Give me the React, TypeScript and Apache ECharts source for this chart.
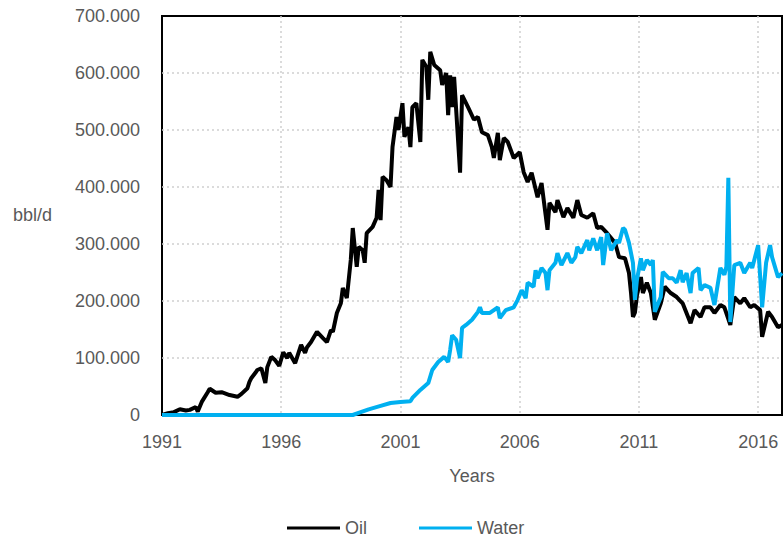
import React, { useEffect, useRef } from "react";
import * as echarts from "echarts";

// x values: months since January 1991
const oilMonths = [0, 3, 6, 9, 12, 14, 17, 18, 20, 23, 24, 27, 30, 34, 38, 40, 43, 44, 45, 47, 48, 50, 52, 53, 55, 57, 59, 61, 63, 64, 67, 70, 72, 73, 75, 78, 81, 83, 85, 86, 88, 90, 91, 93, 95, 96, 98, 99, 101, 102, 103, 106, 108, 109, 110, 111, 113, 115, 116, 118, 119, 121, 122, 124, 125, 126, 128, 130, 131, 133, 134, 135, 137, 140, 141, 143, 144, 145, 146, 147, 150, 151, 154, 157, 159, 161, 164, 166, 167, 169, 170, 172, 174, 177, 180, 182, 184, 186, 189, 191, 194, 195, 198, 199, 202, 204, 207, 209, 211, 214, 217, 219, 221, 224, 228, 230, 233, 235, 236, 237, 238, 239, 241, 242, 244, 246, 248, 251, 253, 256, 259, 262, 266, 268, 271, 273, 276, 278, 281, 283, 286, 288, 291, 293, 296, 298, 301, 302, 305, 307, 310, 312];
const oilValues = [0, 3, 5, 10, 8, 9, 14, 6, 23, 40, 46, 39, 40, 35, 32, 37, 47, 58, 65, 74, 79, 82, 56, 84, 102, 96, 86, 110, 100, 109, 91, 123, 109, 119, 128, 146, 135, 128, 149, 146, 179, 196, 223, 205, 272, 328, 260, 295, 289, 267, 319, 330, 346, 395, 342, 418, 412, 400, 470, 523, 500, 547, 488, 505, 470, 540, 547, 479, 623, 611, 553, 637, 614, 605, 579, 600, 526, 596, 540, 593, 425, 561, 540, 518, 523, 496, 491, 470, 451, 495, 447, 486, 479, 451, 461, 426, 409, 425, 382, 407, 325, 372, 356, 377, 347, 363, 346, 377, 351, 346, 354, 328, 330, 319, 302, 277, 275, 249, 215, 172, 180, 210, 242, 214, 232, 214, 167, 196, 225, 214, 207, 196, 161, 184, 172, 189, 189, 179, 193, 189, 158, 207, 196, 205, 189, 193, 184, 137, 181, 172, 154, 158].map((v) => v * 1000);

const waterMonths = [0, 96, 100, 104, 110, 115, 120, 125, 126, 130, 134, 136, 139, 142, 144, 145, 146, 148, 150, 151, 153, 156, 159, 160, 161, 165, 169, 170, 173, 177, 179, 181, 183, 184, 187, 188, 189, 191, 193, 194, 195, 198, 199, 201, 204, 206, 208, 209, 211, 214, 215, 217, 219, 221, 222, 224, 226, 229, 230, 232, 233, 235, 237, 238, 239, 241, 242, 244, 246, 247, 248, 251, 252, 255, 257, 259, 261, 262, 264, 266, 267, 270, 271, 273, 276, 278, 281, 283, 284, 285, 286, 288, 291, 293, 296, 297, 300, 302, 304, 306, 307, 310, 312];
const waterValues = [0, 0, 5, 10, 16, 21, 23, 24, 30, 44, 56, 79, 93, 102, 93, 114, 140, 132, 100, 153, 158, 167, 181, 189, 179, 179, 189, 170, 184, 189, 202, 219, 205, 232, 225, 254, 240, 258, 249, 219, 254, 267, 284, 263, 284, 267, 277, 295, 284, 307, 289, 310, 289, 312, 263, 319, 289, 307, 302, 328, 325, 302, 267, 202, 237, 275, 254, 272, 263, 272, 181, 207, 251, 240, 240, 232, 254, 233, 249, 214, 249, 258, 219, 228, 223, 193, 258, 246, 260, 416, 163, 263, 267, 249, 267, 258, 298, 189, 267, 298, 277, 242, 249].map((v) => v * 1000);

const startYear = 1991;
const yearStep = 5;
const yMax = 700000;
const yStep = 100000;

const FONT = "'Liberation Sans', Arial, sans-serif";
const GREY = "#595959";

function fmtThousands(v: number): string {
  return String(Math.round(v)).replace(/\B(?=(\d{3})+(?!\d))/g, ".");
}

export default function App() {
  const ref = useRef<HTMLDivElement>(null);
  useEffect(() => {
    if (!ref.current) return;
    const chart = echarts.init(ref.current, null, { renderer: "svg" });
    const oilData = oilMonths.map((m, i) => [m, oilValues[i]]);
    const waterData = waterMonths.map((m, i) => [m, waterValues[i]]);
    const gridLine = {
      show: true,
      showMinLine: false,
      showMaxLine: false,
      lineStyle: { color: "#d0d0d0", width: 1.5, type: [2, 3] },
    };
    chart.setOption({
      animation: false,
      backgroundColor: "#ffffff",
      textStyle: { fontFamily: FONT },
      grid: {
        left: 162,
        right: 2,
        top: 16,
        bottom: 125,
        show: true,
        borderColor: "#000000",
        borderWidth: 2,
        backgroundColor: "transparent",
      },
      xAxis: {
        type: "value",
        min: 0,
        max: 312,
        interval: yearStep * 12,
        name: "Years",
        nameLocation: "middle",
        nameGap: 52,
        nameTextStyle: { color: GREY, fontSize: 18, fontFamily: FONT },
        axisLine: { show: false },
        axisTick: { show: false },
        axisLabel: {
          color: GREY,
          fontSize: 18,
          fontFamily: FONT,
          margin: 18,
          showMaxLabel: false,
          formatter: (v: number) => (v % (yearStep * 12) === 0 ? String(startYear + v / 12) : ""),
        },
        splitLine: gridLine,
      },
      yAxis: {
        type: "value",
        min: 0,
        max: yMax,
        interval: yStep,
        axisLine: { show: false },
        axisTick: { show: false },
        axisLabel: {
          color: GREY,
          fontSize: 18,
          fontFamily: FONT,
          margin: 22,
          formatter: (v: number) => fmtThousands(v),
        },
        splitLine: gridLine,
      },
      legend: {
        left: 282,
        top: 514,
        icon: "rect",
        itemWidth: 53,
        itemHeight: 3,
        itemGap: 52,
        textStyle: { color: GREY, fontSize: 18, fontFamily: FONT },
        data: ["Oil", "Water"],
      },
      graphic: [
        {
          type: "text",
          left: 13,
          top: 206,
          style: { text: "bbl/d", fill: GREY, fontSize: 18, fontFamily: FONT },
        },
      ],
      series: [
        {
          name: "Oil",
          type: "line",
          data: oilData,
          symbol: "none",
          lineStyle: { color: "#000000", width: 4 },
          itemStyle: { color: "#000000" },
        },
        {
          name: "Water",
          type: "line",
          data: waterData,
          symbol: "none",
          lineStyle: { color: "#00b0f0", width: 4 },
          itemStyle: { color: "#00b0f0" },
        },
      ],
    });
    return () => chart.dispose();
  }, []);
  return (
    <div
      ref={ref}
      style={{ position: "fixed", left: 0, top: 0, width: 784, height: 540 }}
    />
  );
}
